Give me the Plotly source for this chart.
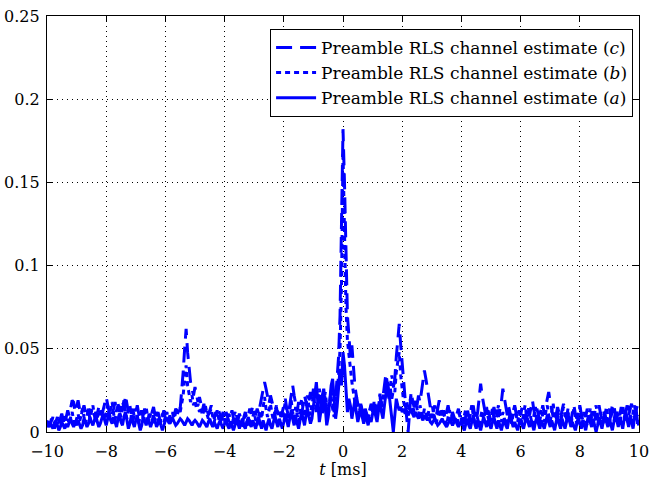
import numpy as np
import plotly.graph_objects as go

# time axis: -10 ms .. 10 ms, 0.05 ms sampling
t_start, t_stop, n_samples = -10.0, 10.0, 401
t = np.linspace(t_start, t_stop, n_samples)

est_a = [
    0.005,0.003,0.006,0.004,0.002,0.005,0.007,0.004,0.001,0.003,0.006,0.004,0.002,0.005,0.003,0.006,0.008,0.005,0.003,0.006,
    0.004,0.007,0.005,0.002,0.004,0.008,0.006,0.003,0.005,0.009,0.006,0.004,0.007,0.010,0.006,0.003,0.005,0.008,0.011,0.007,
    0.004,0.008,0.012,0.007,0.005,0.009,0.006,0.003,0.008,0.011,0.006,0.004,0.009,0.012,0.007,0.002,0.005,0.010,0.006,0.003,
    0.007,0.010,0.005,0.001,0.004,0.009,0.007,0.004,0.008,0.006,0.003,0.006,0.010,0.007,0.003,0.005,0.008,0.004,0.001,0.004,
    0.007,0.008,0.006,0.005,0.007,0.008,0.006,0.004,0.005,0.007,0.008,0.007,0.005,0.004,0.006,0.008,0.007,0.005,0.004,0.006,
    0.007,0.006,0.004,0.003,0.005,0.007,0.006,0.004,0.003,0.006,0.008,0.005,0.003,0.006,0.004,0.002,0.005,0.007,0.004,0.002,
    0.005,0.008,0.004,0.002,0.006,0.003,0.001,0.004,0.007,0.005,0.002,0.005,0.008,0.004,0.002,0.006,0.009,0.005,0.003,0.007,
    0.004,0.002,0.006,0.009,0.005,0.002,0.007,0.004,0.001,0.005,0.008,0.004,0.002,0.006,0.010,0.006,0.003,0.008,0.005,0.002,
    0.006,0.011,0.007,0.003,0.008,0.013,0.008,0.004,0.009,0.006,0.002,0.007,0.012,0.008,0.004,0.010,0.014,0.009,0.005,0.008,
    0.016,0.025,0.030,0.018,0.006,0.012,0.022,0.026,0.015,0.004,0.009,0.018,0.028,0.032,0.020,0.008,0.015,0.030,0.038,0.028,
    0.048,0.040,0.022,0.012,0.020,0.016,0.008,0.014,0.019,0.012,0.006,0.010,0.015,0.009,0.005,0.011,0.007,0.004,0.009,0.006,
    0.011,0.015,0.010,0.006,0.013,0.018,0.012,0.008,0.016,0.022,0.030,0.024,0.015,0.005,0.000,0.010,0.020,0.016,0.013,0.015,
    0.012,0.014,0.011,0.013,0.010,0.012,0.014,0.011,0.009,0.012,0.010,0.008,0.011,0.009,0.007,0.010,0.008,0.007,0.009,0.006,
    0.005,0.007,0.008,0.006,0.004,0.005,0.007,0.008,0.006,0.004,0.003,0.005,0.007,0.006,0.004,0.006,0.008,0.005,0.003,0.005,
    0.007,0.003,0.001,0.005,0.008,0.004,0.002,0.006,0.010,0.005,0.002,0.007,0.004,0.001,0.005,0.009,0.006,0.003,0.007,0.004,
    0.002,0.006,0.009,0.005,0.002,0.007,0.004,0.001,0.005,0.008,0.004,0.002,0.007,0.011,0.006,0.003,0.006,0.004,0.001,0.005,
    0.008,0.004,0.002,0.006,0.010,0.006,0.003,0.007,0.004,0.001,0.006,0.009,0.005,0.002,0.007,0.005,0.002,0.006,0.010,0.006,
    0.003,0.007,0.004,0.001,0.006,0.010,0.005,0.002,0.008,0.005,0.002,0.006,0.011,0.007,0.003,0.006,0.004,0.001,0.005,0.009,
    0.005,0.002,0.007,0.004,0.001,0.006,0.010,0.006,0.003,0.008,0.004,0.000,0.004,0.009,0.005,0.002,0.007,0.011,0.006,0.003,
    0.008,0.004,0.001,0.006,0.012,0.007,0.003,0.009,0.005,0.002,0.008,0.013,0.007,0.003,0.010,0.006,0.002,0.009,0.014,0.006,
    0.004,
]

est_b = [
    0.004,0.007,0.003,0.006,0.009,0.005,0.002,0.006,0.008,0.004,0.007,0.010,0.006,0.003,0.008,0.005,0.009,0.012,0.007,0.004,
    0.008,0.011,0.006,0.010,0.014,0.009,0.005,0.010,0.013,0.008,0.012,0.016,0.010,0.006,0.011,0.015,0.009,0.013,0.010,0.007,
    0.012,0.016,0.010,0.014,0.018,0.011,0.007,0.013,0.017,0.012,0.009,0.014,0.019,0.012,0.008,0.013,0.016,0.010,0.006,0.011,
    0.014,0.009,0.005,0.010,0.013,0.008,0.011,0.015,0.009,0.006,0.011,0.008,0.004,0.009,0.012,0.007,0.004,0.008,0.011,0.006,
    0.009,0.012,0.007,0.004,0.009,0.011,0.008,0.012,0.010,0.014,0.012,0.018,0.022,0.032,0.040,0.028,0.024,0.018,0.022,0.016,
    0.019,0.014,0.017,0.012,0.015,0.010,0.013,0.016,0.011,0.008,0.012,0.014,0.009,0.006,0.010,0.013,0.008,0.005,0.009,0.012,
    0.007,0.004,0.008,0.011,0.006,0.003,0.009,0.012,0.007,0.004,0.008,0.005,0.002,0.007,0.010,0.006,0.003,0.008,0.005,0.009,
    0.012,0.007,0.004,0.009,0.013,0.008,0.016,0.021,0.014,0.009,0.013,0.017,0.011,0.007,0.012,0.016,0.010,0.006,0.011,0.008,
    0.013,0.018,0.011,0.007,0.013,0.019,0.012,0.008,0.015,0.011,0.006,0.012,0.020,0.014,0.009,0.016,0.022,0.015,0.010,0.016,
    0.022,0.016,0.012,0.020,0.026,0.018,0.011,0.017,0.024,0.016,0.010,0.015,0.021,0.014,0.009,0.016,0.024,0.034,0.050,0.090,
    0.168,0.120,0.075,0.055,0.045,0.038,0.030,0.024,0.018,0.022,0.015,0.011,0.016,0.012,0.008,0.013,0.010,0.007,0.012,0.016,
    0.012,0.018,0.014,0.010,0.016,0.021,0.015,0.019,0.025,0.032,0.026,0.020,0.028,0.034,0.028,0.024,0.036,0.044,0.048,0.034,
    0.024,0.018,0.014,0.019,0.013,0.017,0.022,0.016,0.012,0.018,0.014,0.010,0.016,0.013,0.009,0.014,0.011,0.008,0.013,0.010,
    0.007,0.012,0.009,0.005,0.010,0.014,0.009,0.006,0.011,0.008,0.004,0.009,0.013,0.008,0.005,0.010,0.007,0.004,0.009,0.012,
    0.008,0.004,0.010,0.014,0.009,0.005,0.011,0.016,0.010,0.006,0.012,0.008,0.004,0.009,0.013,0.008,0.011,0.015,0.009,0.005,
    0.010,0.014,0.008,0.005,0.011,0.016,0.010,0.006,0.012,0.008,0.004,0.010,0.014,0.009,0.005,0.011,0.015,0.010,0.006,0.012,
    0.009,0.005,0.011,0.016,0.010,0.006,0.012,0.008,0.004,0.010,0.015,0.009,0.005,0.011,0.014,0.009,0.006,0.012,0.016,0.010,
    0.006,0.012,0.017,0.011,0.007,0.013,0.009,0.005,0.011,0.015,0.010,0.006,0.012,0.008,0.004,0.010,0.014,0.009,0.005,0.011,
    0.015,0.009,0.005,0.011,0.008,0.004,0.010,0.014,0.008,0.005,0.011,0.016,0.010,0.006,0.012,0.008,0.004,0.010,0.015,0.009,
    0.005,0.011,0.016,0.010,0.006,0.013,0.008,0.004,0.011,0.016,0.010,0.006,0.013,0.017,0.010,0.005,0.012,0.016,0.009,0.005,
    0.010,
]

est_c = [
    0.003,0.006,0.004,0.008,0.005,0.002,0.006,0.009,0.005,0.008,0.011,0.007,0.004,0.009,0.013,0.010,0.016,0.019,0.018,0.012,
    0.015,0.019,0.014,0.010,0.013,0.016,0.012,0.009,0.014,0.011,0.015,0.013,0.010,0.012,0.009,0.011,0.014,0.010,0.013,0.017,
    0.021,0.017,0.012,0.015,0.011,0.014,0.018,0.013,0.016,0.012,0.015,0.019,0.014,0.022,0.017,0.012,0.016,0.011,0.014,0.009,
    0.012,0.016,0.011,0.008,0.013,0.010,0.014,0.009,0.006,0.011,0.008,0.012,0.015,0.010,0.007,0.012,0.009,0.005,0.010,0.013,
    0.008,0.011,0.006,0.010,0.007,0.012,0.010,0.014,0.012,0.016,0.014,0.024,0.036,0.050,0.062,0.048,0.036,0.030,0.026,0.022,
    0.027,0.022,0.018,0.021,0.016,0.013,0.017,0.012,0.015,0.010,0.013,0.016,0.011,0.008,0.012,0.009,0.013,0.010,0.007,0.011,
    0.008,0.012,0.009,0.006,0.010,0.013,0.008,0.005,0.010,0.007,0.011,0.008,0.005,0.009,0.012,0.008,0.010,0.014,0.011,0.016,
    0.013,0.010,0.014,0.011,0.016,0.020,0.024,0.030,0.026,0.021,0.017,0.022,0.018,0.014,0.011,0.015,0.010,0.013,0.009,0.012,
    0.016,0.020,0.014,0.010,0.016,0.024,0.028,0.022,0.016,0.012,0.018,0.014,0.010,0.016,0.022,0.018,0.013,0.019,0.024,0.018,
    0.026,0.020,0.014,0.018,0.024,0.016,0.010,0.017,0.022,0.015,0.011,0.018,0.025,0.017,0.012,0.020,0.030,0.045,0.070,0.120,
    0.182,0.150,0.100,0.070,0.058,0.045,0.052,0.036,0.028,0.022,0.018,0.012,0.017,0.013,0.009,0.014,0.011,0.008,0.013,0.017,
    0.014,0.019,0.015,0.012,0.018,0.023,0.017,0.021,0.028,0.035,0.029,0.022,0.026,0.020,0.025,0.032,0.045,0.058,0.065,0.052,
    0.040,0.028,0.020,0.009,0.000,0.012,0.024,0.019,0.015,0.020,0.016,0.022,0.018,0.024,0.030,0.037,0.032,0.026,0.020,0.015,
    0.018,0.012,0.016,0.010,0.014,0.019,0.015,0.010,0.013,0.008,0.012,0.016,0.011,0.008,0.012,0.009,0.006,0.011,0.014,0.009,
    0.012,0.008,0.005,0.010,0.014,0.009,0.006,0.011,0.016,0.010,0.007,0.012,0.020,0.029,0.022,0.016,0.012,0.008,0.013,0.010,
    0.006,0.011,0.015,0.010,0.014,0.009,0.013,0.018,0.026,0.020,0.014,0.010,0.015,0.011,0.007,0.012,0.016,0.011,0.008,0.013,
    0.010,0.015,0.011,0.007,0.012,0.016,0.010,0.014,0.019,0.013,0.009,0.014,0.011,0.007,0.012,0.016,0.011,0.015,0.020,0.024,
    0.018,0.013,0.009,0.014,0.010,0.015,0.012,0.008,0.013,0.017,0.012,0.008,0.014,0.010,0.006,0.012,0.016,0.011,0.008,0.013,
    0.016,0.011,0.007,0.012,0.009,0.014,0.010,0.006,0.011,0.015,0.010,0.007,0.012,0.016,0.011,0.008,0.013,0.009,0.006,0.011,
    0.014,0.009,0.012,0.016,0.011,0.008,0.013,0.010,0.015,0.011,0.007,0.012,0.016,0.010,0.014,0.017,0.011,0.008,0.013,0.016,
    0.012,
]

x_ticks = [-10, -8, -6, -4, -2, 0, 2, 4, 6, 8, 10]
y_ticks = [0, 0.05, 0.1, 0.15, 0.2, 0.25]
y_tick_labels = ["0", "0.05", "0.1", "0.15", "0.2", "0.25"]

blue = "rgb(0,0,255)"
font_family = "DejaVu Serif"

fig = go.Figure()
fig.add_trace(go.Scatter(x=t, y=est_a, mode="lines",
                         name="Preamble RLS channel estimate (<i>a</i>)",
                         line=dict(color=blue, width=3)))
fig.add_trace(go.Scatter(x=t, y=est_b, mode="lines",
                         name="Preamble RLS channel estimate (<i>b</i>)",
                         line=dict(color=blue, width=3, dash="5px,4px")))
fig.add_trace(go.Scatter(x=t, y=est_c, mode="lines",
                         name="Preamble RLS channel estimate (<i>c</i>)",
                         line=dict(color=blue, width=3, dash="16px,8px")))

axis_common = dict(
    showline=True, linecolor="black", linewidth=1.2, mirror="ticks",
    ticks="inside", ticklen=6, tickcolor="black",
    showgrid=True, gridcolor="black", gridwidth=1, griddash="1px,4px",
    zeroline=False, automargin=False,
    tickfont=dict(family=font_family, size=16, color="black"),
)

fig.update_xaxes(range=[-10, 10], tickvals=x_ticks, ticklabelstandoff=5,
                 title=dict(text="<i>t</i> [ms]", font=dict(family=font_family, size=16, color="black"),
                            standoff=2),
                 **axis_common)
fig.update_yaxes(range=[0, 0.25], tickvals=y_ticks, ticktext=y_tick_labels,
                 ticklabelstandoff=3, **axis_common)

fig.update_layout(
    width=650, height=479,
    margin=dict(l=47, r=11, t=16, b=47),
    paper_bgcolor="white", plot_bgcolor="white",
    font=dict(family=font_family, color="black"),
    legend=dict(x=0.99, y=0.969, xanchor="right", yanchor="top",
                traceorder="reversed",
                bgcolor="white", bordercolor="black", borderwidth=1,
                font=dict(family=font_family, size=17, color="black"),
                itemwidth=40, tracegroupgap=0),
    showlegend=True,
)

fig.write_html("out.html")
